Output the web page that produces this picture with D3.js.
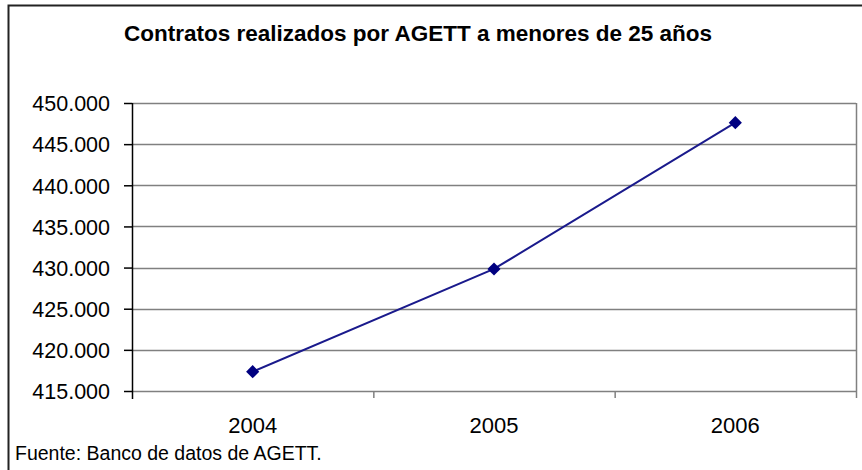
<!DOCTYPE html>
<html lang="es">
<head>
    <meta charset="UTF-8">
    <title>Contratos AGETT</title>
    <style>
        body { margin: 0; background: #fff; }
        text { font-family: "Liberation Sans", Arial, sans-serif; fill: #000; }
    </style>
</head>
<body>
<svg></svg>
<script src="https://d3js.org/d3.v7.min.js"></script>
<script>
    var years = ["2004", "2005", "2006"];
    var contratos = [417350, 429830, 447610];
    var yTicks = [415000, 420000, 425000, 430000, 435000, 440000, 445000, 450000];

    var width = 862;
    var height = 470;
    var plot = {left: 132, top: 103, right: 856, bottom: 391};

    var svg = d3.select("svg")
        .attr("width", width)
        .attr("height", height);

    // marco exterior (solo se ve arriba e izquierda)
    svg.append("path")
        .attr("d", "M8.5," + height + "V5.5H" + width)
        .attr("fill", "none")
        .attr("stroke", "#222")
        .attr("stroke-width", 2);

    var xScale = d3.scaleBand().domain(years).range([plot.left, plot.right]);
    var yScale = d3.scaleLinear().domain([415000, 450000]).range([plot.bottom, plot.top]);

    // rejilla
    svg.append("g").selectAll("line")
        .data(yTicks)
        .enter().append("line")
        .attr("x1", plot.left)
        .attr("x2", plot.right)
        .attr("y1", function (d) { return Math.round(yScale(d)) + 0.5; })
        .attr("y2", function (d) { return Math.round(yScale(d)) + 0.5; })
        .attr("stroke", "#808080")
        .attr("stroke-width", 1.5);

    // borde derecho del área de trazado
    svg.append("line")
        .attr("x1", plot.right + 0.5).attr("x2", plot.right + 0.5)
        .attr("y1", plot.top).attr("y2", plot.bottom)
        .attr("stroke", "#808080")
        .attr("stroke-width", 1.5);

    // eje Y
    var yAxis = d3.axisLeft(yScale)
        .tickValues(yTicks)
        .tickSize(8)
        .tickPadding(14)
        .tickFormat(function (d) { return d3.format(",")(d).replace(/,/g, "."); });
    var gy = svg.append("g")
        .attr("transform", "translate(" + plot.left + ",0)")
        .call(yAxis);
    gy.select(".domain").attr("stroke", "#000").attr("stroke-width", 1.5)
        .attr("d", "M0.5," + plot.top + "V" + (plot.bottom + 8));
    gy.selectAll(".tick line").attr("stroke", "#000").attr("stroke-width", 1.5);
    gy.selectAll(".tick text")
        .style("font-size", "21.5px")
        .attr("dy", "0.36em")
        .style("font-family", "'Liberation Sans', Arial, sans-serif");

    // eje X
    var xAxis = d3.axisBottom(xScale).tickSize(0).tickPadding(26);
    var gx = svg.append("g")
        .attr("transform", "translate(0," + plot.bottom + ")")
        .call(xAxis);
    gx.select(".domain").remove();
    gx.selectAll(".tick text")
        .style("font-size", "22px")
        .style("font-family", "'Liberation Sans', Arial, sans-serif");
    // marcas entre categorías
    svg.append("g").selectAll("line")
        .data(years.slice(1).concat(["end"]))
        .enter().append("line")
        .attr("x1", function (d) { return d === "end" ? plot.right + 0.5 : xScale(d) + 0.5; })
        .attr("x2", function (d) { return d === "end" ? plot.right + 0.5 : xScale(d) + 0.5; })
        .attr("y1", plot.bottom)
        .attr("y2", plot.bottom + 7)
        .attr("stroke", "#808080")
        .attr("stroke-width", 1.5);

    // serie
    var line = d3.line()
        .x(function (d, i) { return xScale(years[i]) + xScale.bandwidth() / 2; })
        .y(function (d) { return yScale(d); });
    svg.append("path")
        .datum(contratos)
        .attr("d", line)
        .attr("fill", "none")
        .attr("stroke", "#1a1a8c")
        .attr("stroke-width", 2);

    svg.selectAll(".marker")
        .data(contratos)
        .enter().append("path")
        .attr("class", "marker")
        .attr("d", d3.symbol().type(d3.symbolDiamond2).size(110))
        .attr("transform", function (d, i) {
            return "translate(" + (xScale(years[i]) + xScale.bandwidth() / 2) + "," + yScale(d) + ")";
        })
        .attr("fill", "#000080");

    // título
    svg.append("text")
        .attr("x", 418)
        .attr("y", 41)
        .attr("text-anchor", "middle")
        .style("font-size", "22.5px")
        .style("font-weight", "bold")
        .text("Contratos realizados por AGETT a menores de 25 años");

    // fuente
    svg.append("text")
        .attr("x", 15)
        .attr("y", 460)
        .style("font-size", "19.5px")
        .text("Fuente: Banco de datos de AGETT.");
</script>
</body>
</html>
